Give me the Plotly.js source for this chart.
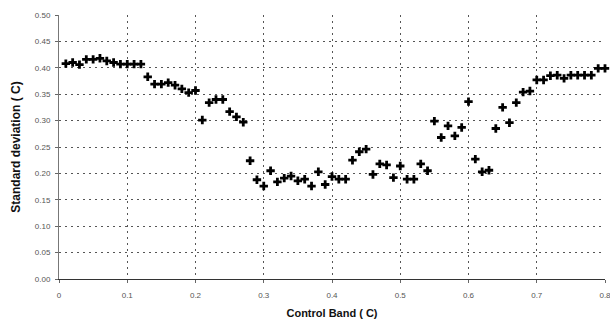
<!DOCTYPE html>
<html>
<head>
<meta charset="utf-8">
<script src="https://cdn.plot.ly/plotly-3.0.1.min.js"></script>
<style>
  html, body { margin: 0; padding: 0; background: #ffffff; }
  #chart { width: 610px; height: 324px; }
</style>
</head>
<body>
<div id="chart"></div>
<script>
// Control band setting (C), one sample every 0.01
const controlBand = [
  0.01, 0.02, 0.03, 0.04, 0.05, 0.06, 0.07, 0.08, 0.09, 0.10,
  0.11, 0.12, 0.13, 0.14, 0.15, 0.16, 0.17, 0.18, 0.19, 0.20,
  0.21, 0.22, 0.23, 0.24, 0.25, 0.26, 0.27, 0.28, 0.29, 0.30,
  0.31, 0.32, 0.33, 0.34, 0.35, 0.36, 0.37, 0.38, 0.39, 0.40,
  0.41, 0.42, 0.43, 0.44, 0.45, 0.46, 0.47, 0.48, 0.49, 0.50,
  0.51, 0.52, 0.53, 0.54, 0.55, 0.56, 0.57, 0.58, 0.59, 0.60,
  0.61, 0.62, 0.63, 0.64, 0.65, 0.66, 0.67, 0.68, 0.69, 0.70,
  0.71, 0.72, 0.73, 0.74, 0.75, 0.76, 0.77, 0.78, 0.79, 0.80
];

// Standard deviation of the controlled temperature (C)
const stdDeviation = [
  0.408, 0.410, 0.406, 0.416, 0.416, 0.418, 0.413, 0.410, 0.407, 0.407,
  0.407, 0.407, 0.383, 0.369, 0.369, 0.372, 0.367, 0.360, 0.353, 0.357,
  0.301, 0.334, 0.340, 0.340, 0.317, 0.307, 0.297, 0.224, 0.188, 0.176,
  0.205, 0.184, 0.191, 0.195, 0.186, 0.189, 0.176, 0.203, 0.179, 0.194,
  0.189, 0.189, 0.225, 0.241, 0.246, 0.198, 0.218, 0.216, 0.192, 0.214,
  0.189, 0.189, 0.218, 0.205, 0.299, 0.268, 0.290, 0.271, 0.287, 0.336,
  0.227, 0.203, 0.206, 0.285, 0.325, 0.296, 0.334, 0.354, 0.356, 0.377,
  0.377, 0.385, 0.386, 0.380, 0.386, 0.386, 0.386, 0.386, 0.399, 0.399
];

// Axis tick positions and labels
const xTickVals = [0, 0.1, 0.2, 0.3, 0.4, 0.5, 0.6, 0.7, 0.8];
const xTickText = ["0", "0.1", "0.2", "0.3", "0.4", "0.5", "0.6", "0.7", "0.8"];
const yTickVals = [0, 0.05, 0.10, 0.15, 0.20, 0.25, 0.30, 0.35, 0.40, 0.45, 0.50];
const yTickText = ["0.00", "0.05", "0.10", "0.15", "0.20", "0.25", "0.30", "0.35", "0.40", "0.45", "0.50"];

const trace = {
  x: controlBand,
  y: stdDeviation,
  type: "scatter",
  mode: "markers",
  cliponaxis: false,
  marker: {
    symbol: "cross",
    size: 7,
    color: "#000000",
    line: { width: 0 }
  },
  hoverinfo: "x+y"
};

const tickFont = { family: "Liberation Sans, Arial, sans-serif", size: 8, color: "#555555" };
const titleFont = { family: "Liberation Sans, Arial, sans-serif", size: 11, color: "#111111", weight: "bold" };

const layout = {
  width: 610,
  height: 324,
  margin: { l: 59, r: 5, t: 15, b: 45 },
  paper_bgcolor: "#ffffff",
  plot_bgcolor: "#ffffff",
  showlegend: false,
  xaxis: {
    range: [0, 0.8],
    tickvals: xTickVals,
    ticktext: xTickText,
    tickfont: tickFont,
    ticks: "outside",
    ticklen: 3,
    tickcolor: "#666666",
    ticklabelstandoff: 5,
    ticklabeloverflow: "allow",
    showgrid: true,
    gridcolor: "#555555",
    gridwidth: 1,
    griddash: "2px,4px",
    zeroline: false,
    showline: true,
    linecolor: "#333333",
    linewidth: 1,
    title: { text: "Control Band ( C)", font: titleFont, standoff: 10 }
  },
  yaxis: {
    range: [0, 0.5],
    tickvals: yTickVals,
    ticktext: yTickText,
    tickfont: tickFont,
    ticks: "outside",
    ticklen: 3,
    tickcolor: "#666666",
    ticklabelstandoff: 3,
    showgrid: true,
    gridcolor: "#555555",
    gridwidth: 1,
    griddash: "2px,4px",
    zeroline: false,
    showline: true,
    linecolor: "#777777",
    linewidth: 1,
    title: { text: "Standard deviation ( C)", font: { ...titleFont, size: 12 }, standoff: 11 }
  }
};

Plotly.newPlot("chart", [trace], layout, { displayModeBar: false, staticPlot: true });
</script>
</body>
</html>
